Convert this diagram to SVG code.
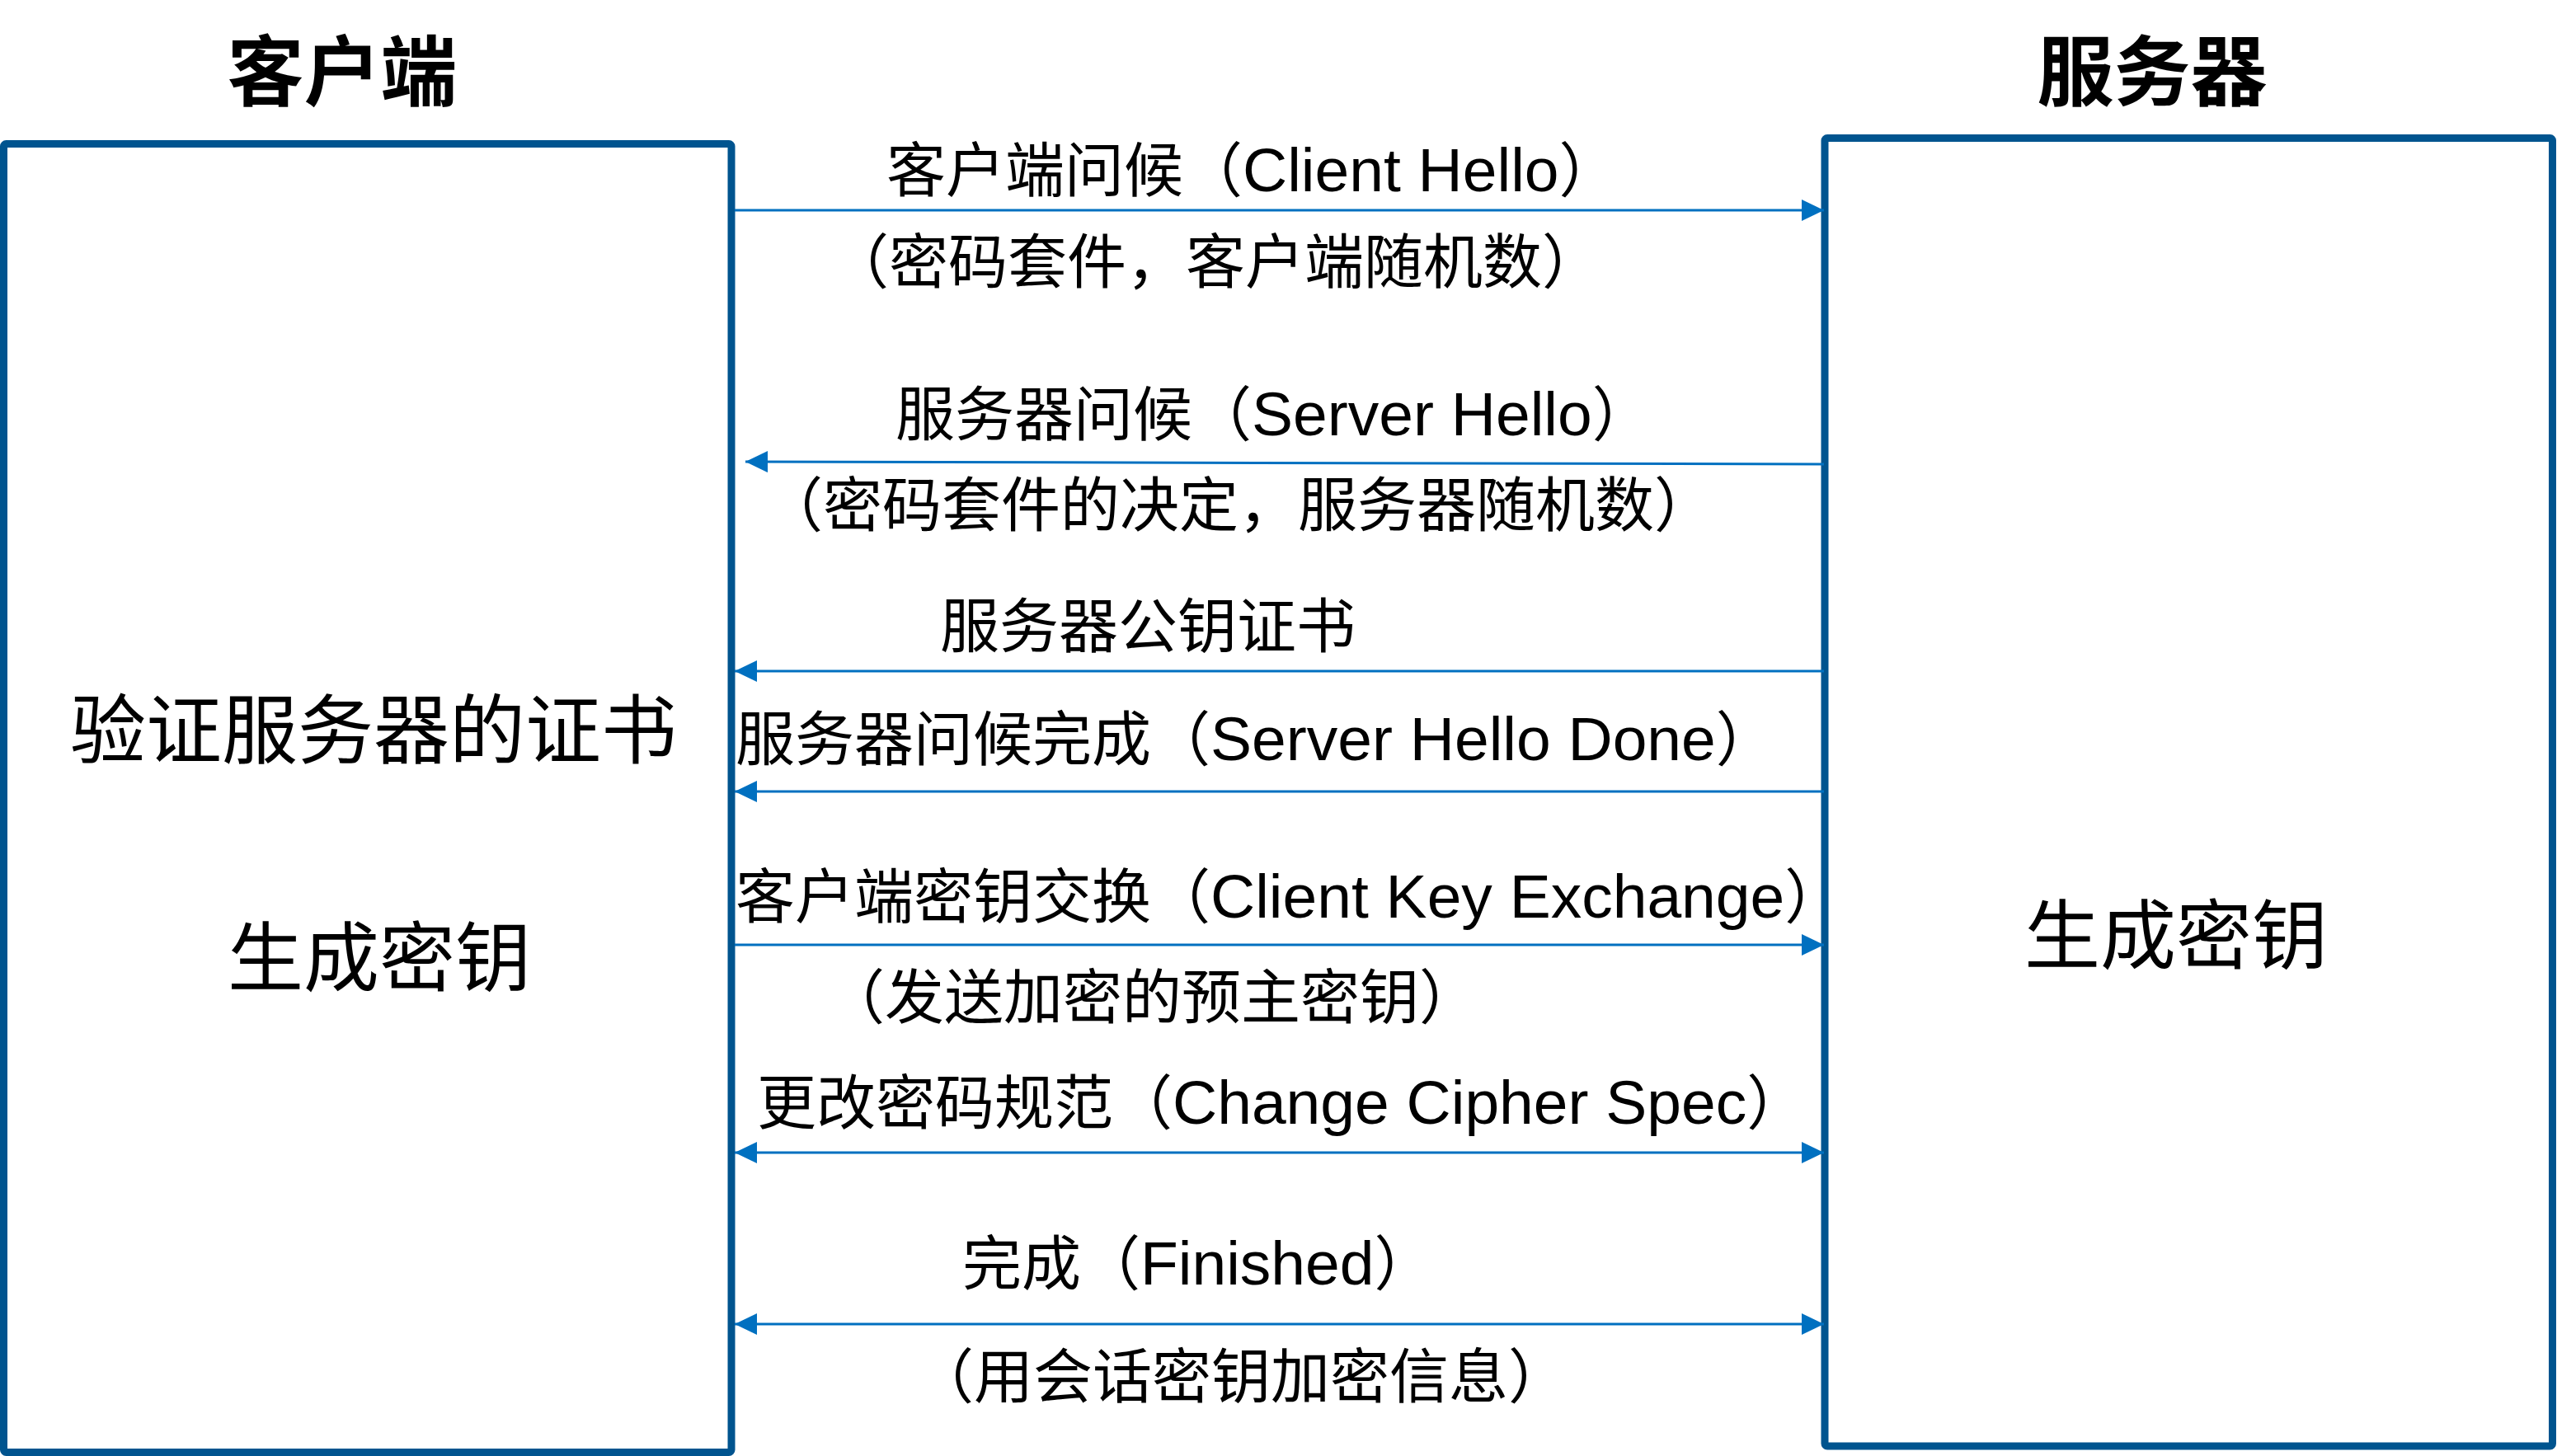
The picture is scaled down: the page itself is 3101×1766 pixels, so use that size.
<svg xmlns="http://www.w3.org/2000/svg" width="3101" height="1766" viewBox="0 0 3101 1766">
<style>
.box{fill:#FFFFFF;stroke:#00548F;stroke-width:9}
.title{font-family:"Liberation Sans","Noto Sans CJK SC",sans-serif;font-size:93px;font-weight:bold;fill:#000000;text-anchor:middle}
.big{font-family:"Liberation Sans","Noto Sans CJK SC",sans-serif;font-size:92px;fill:#000000;text-anchor:middle}
.lbl{font-family:"Liberation Sans","Noto Sans CJK SC",sans-serif;font-size:72px;fill:#000000}
.en{font-size:75px}
.msg{fill:none;stroke:#0070C0;stroke-width:3}
</style>
<defs>
<marker id="ah" markerUnits="userSpaceOnUse" markerWidth="28" markerHeight="28" refX="27" refY="13" orient="auto-start-reverse" viewBox="0 0 28 28">
<path d="M0,0 L27,13 L0,26 z" fill="#0070C0"/>
</marker>
</defs>
<rect width="3101" height="1766" fill="#FFFFFF"/>
<g id="client">
<rect class="box" x="4.5" y="174.5" width="882.5" height="1587" rx="3"/>
<text class="title" x="415" y="121">客户端</text>
<text class="big" x="453" y="919">验证服务器的证书</text>
<text class="big" x="460" y="1195">生成密钥</text>
</g>
<g id="server">
<rect class="box" x="2213" y="167.5" width="882.5" height="1586.5" rx="3"/>
<text class="title" x="2610" y="121">服务器</text>
<text class="big" x="2639" y="1168">生成密钥</text>
</g>
<g id="connectors">
<line class="msg" x1="891" y1="255" x2="2212" y2="255" marker-end="url(#ah)"/>
<line class="msg" x1="2212" y1="563" x2="904" y2="560" marker-end="url(#ah)"/>
<line class="msg" x1="2212" y1="814" x2="891" y2="814" marker-end="url(#ah)"/>
<line class="msg" x1="2212" y1="960" x2="891" y2="960" marker-end="url(#ah)"/>
<line class="msg" x1="891" y1="1146" x2="2212" y2="1146" marker-end="url(#ah)"/>
<line class="msg" x1="891" y1="1398" x2="2212" y2="1398" marker-start="url(#ah)" marker-end="url(#ah)"/>
<line class="msg" x1="891" y1="1606" x2="2212" y2="1606" marker-start="url(#ah)" marker-end="url(#ah)"/>
</g>
<g id="labels">
<text class="lbl" x="1075" y="232">客户端问候（<tspan class="en">Client Hello</tspan>）</text>
<text class="lbl" x="1006" y="343">（密码套件，客户端随机数）</text>
<text class="lbl" x="1086" y="528">服务器问候（<tspan class="en">Server Hello</tspan>）</text>
<text class="lbl" x="926" y="638">（密码套件的决定，服务器随机数）</text>
<text class="lbl" x="1140" y="785">服务器公钥证书</text>
<text class="lbl" x="892" y="922">服务器问候完成（<tspan class="en">Server Hello Done</tspan>）</text>
<text class="lbl" x="892" y="1113">客户端密钥交换（<tspan class="en">Client Key Exchange</tspan>）</text>
<text class="lbl" x="1001" y="1235">（发送加密的预主密钥）</text>
<text class="lbl" x="918" y="1363">更改密码规范（<tspan class="en">Change Cipher Spec</tspan>）</text>
<text class="lbl" x="1167" y="1558">完成（<tspan class="en">Finished</tspan>）</text>
<text class="lbl" x="1109" y="1695">（用会话密钥加密信息）</text>
</g>
</svg>
